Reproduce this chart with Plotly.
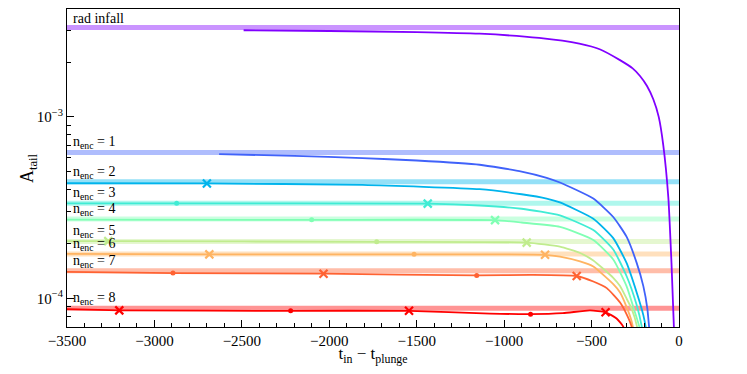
"""Tail amplitude vs time before plunge, one curve per encounter count (log y)."""
import numpy as np
import plotly.graph_objects as go

FONT = "Liberation Serif"

# rainbow colours, rad infall first then n_enc = 1..8
COLORS = ["#8000ff", "#4062fa", "#00b4ec", "#40ecd4", "#80ffb4",
          "#c0ec8e", "#ffb462", "#ff6232", "#ff0000"]
LABELS = ["rad infall"] + [f"n<sub>enc</sub> = {n}" for n in range(1, 9)]

# asymptotic levels (horizontal bands)
band_levels = [3.11e-3, 6.37e-4, 4.39e-4, 3.34e-4, 2.74e-4, 2.06e-4, 1.76e-4, 1.42e-4, 8.83e-5]

t_rad = [-2490, -2000, -1500, -1140, -800, -570, -450, -340, -265, -223, -183, -147, -116, -90, -61, -43, -28]
a_rad = [3.0e-3, 2.97e-3, 2.93e-3, 2.87e-3, 2.72e-3, 2.53e-3, 2.35e-3, 2.06e-3, 1.85e-3, 1.68e-3,
         1.48e-3, 1.25e-3, 1.0e-3, 7.0e-4, 3.6e-4, 1.57e-4, 6.5e-5]

t_n1 = [-2630, -2200, -1810, -1500, -1140, -900, -757, -681, -490, -376, -300, -242, -204, -181, -168, -163]
a_n1 = [6.23e-4, 6.1e-4, 5.93e-4, 5.75e-4, 5.45e-4, 5.0e-4, 4.62e-4, 4.35e-4, 3.55e-4, 2.81e-4,
        2.19e-4, 1.57e-4, 1.17e-4, 8.8e-5, 6.5e-5, 6.0e-5]

t_n2 = [-3500, -2700, -1810, -1140, -900, -757, -681, -490, -376, -300, -242, -204, -189, -183]
a_n2 = [4.31e-4, 4.3e-4, 4.22e-4, 4.0e-4, 3.75e-4, 3.55e-4, 3.38e-4, 2.75e-4, 2.15e-4, 1.57e-4,
        1.08e-4, 8.1e-5, 6.8e-5, 6.0e-5]

t_n3 = [-3500, -2870, -1437, -1140, -900, -681, -490, -376, -300, -242, -213, -203]
a_n3 = [3.34e-4, 3.34e-4, 3.33e-4, 3.25e-4, 3.12e-4, 2.87e-4, 2.38e-4, 1.86e-4, 1.33e-4, 9.2e-5, 7.0e-5, 6.0e-5]

t_n4 = [-3500, -2100, -1052, -900, -681, -490, -376, -300, -252, -227, -217]
a_n4 = [2.72e-4, 2.71e-4, 2.70e-4, 2.62e-4, 2.48e-4, 2.10e-4, 1.64e-4, 1.17e-4, 8.4e-5, 7.0e-5, 6.0e-5]

t_n5 = [-3500, -3264, -1730, -871, -681, -566, -490, -376, -337, -300, -271, -240, -230]
a_n5 = [2.07e-4, 2.07e-4, 2.05e-4, 2.03e-4, 1.93e-4, 1.78e-4, 1.62e-4, 1.3e-4, 1.17e-4, 1.0e-4,
        8.8e-5, 7.0e-5, 6.0e-5]

t_n6 = [-3500, -2686, -1515, -766, -681, -566, -490, -376, -337, -300, -271, -250]
a_n6 = [1.76e-4, 1.75e-4, 1.75e-4, 1.74e-4, 1.70e-4, 1.6e-4, 1.5e-4, 1.2e-4, 1.08e-4, 9.0e-5, 7.5e-5, 6.0e-5]

t_n7 = [-3500, -2894, -2033, -1157, -850, -585, -490, -413, -337, -300, -271, -260]
a_n7 = [1.40e-4, 1.38e-4, 1.37e-4, 1.34e-4, 1.35e-4, 1.33e-4, 1.24e-4, 1.14e-4, 9.5e-5, 8.2e-5, 7.0e-5, 6.0e-5]

t_n8 = [-3500, -3200, -2221, -1544, -1081, -849, -664, -509, -420, -357, -319, -310]
a_n8 = [8.73e-5, 8.6e-5, 8.55e-5, 8.55e-5, 8.26e-5, 8.2e-5, 8.3e-5, 8.6e-5, 8.4e-5, 7.76e-5, 7.0e-5, 6.0e-5]

curves_t = [t_rad, t_n1, t_n2, t_n3, t_n4, t_n5, t_n6, t_n7, t_n8]
curves_a = [a_rad, a_n1, a_n2, a_n3, a_n4, a_n5, a_n6, a_n7, a_n8]

# marker times on each curve (x crosses and dots)
cross_times = [[], [], [-2700], [-1437], [-1052], [-3264, -871], [-2686, -766], [-2033, -585],
               [-3201, -1544, -420]]
dot_times = [[], [], [], [-2873], [-2101], [-1729], [-1515], [-2894, -1157], [-2221, -849]]

T_MIN, T_MAX = -3500, 0


def _hex_to_rgba(hex_color: str, alpha: float) -> str:
    r, g, b = (int(hex_color[i:i + 2], 16) for i in (1, 3, 5))
    return f"rgba({r},{g},{b},{alpha})"


def _on_curve(times, t_arr, a_arr):
    return list(10 ** np.interp(times, t_arr, np.log10(a_arr)))


fig = go.Figure()

for level, color in zip(band_levels, COLORS):
    fig.add_trace(go.Scatter(
        x=[T_MIN, T_MAX], y=[level, level], mode="lines",
        line=dict(color=_hex_to_rgba(color, 0.42), width=5),
        hoverinfo="skip", showlegend=False,
    ))

for idx, color in enumerate(COLORS):
    t_arr, a_arr = curves_t[idx], curves_a[idx]
    fig.add_trace(go.Scatter(
        x=t_arr, y=a_arr, mode="lines",
        line=dict(color=color, width=1.8, shape="spline", smoothing=0.5),
        showlegend=False,
    ))
    if cross_times[idx]:
        fig.add_trace(go.Scatter(
            x=cross_times[idx], y=_on_curve(cross_times[idx], t_arr, a_arr), mode="markers",
            marker=dict(symbol="x-thin", size=8, color=color, line=dict(color=color, width=2.2)),
            showlegend=False,
        ))
    if dot_times[idx]:
        fig.add_trace(go.Scatter(
            x=dot_times[idx], y=_on_curve(dot_times[idx], t_arr, a_arr), mode="markers",
            marker=dict(symbol="circle", size=5, color=color),
            showlegend=False,
        ))

for level, label in zip(band_levels, LABELS):
    fig.add_annotation(
        x=-3470, y=np.log10(level), text=label, showarrow=False,
        xanchor="left", yanchor="bottom", borderpad=0,
        font=dict(family=FONT, size=14, color="black"),
    )

# y-axis title placed by hand so it sits as close to the ticks as in the original
fig.add_annotation(
    xref="paper", yref="paper", x=0, y=0.5, xshift=-39, textangle=-90,
    text="A<sub>tail</sub>", showarrow=False, xanchor="center", yanchor="middle",
    font=dict(family=FONT, size=18, color="black"),
)

minor_vals = [m * 10.0 ** e for e in (-5, -4, -3) for m in range(2, 10)]

# page body has an 8px margin, so the figure is sized to fit inside the window
fig.update_layout(
    width=739, height=358,
    margin=dict(l=59, r=68, t=0, b=34),
    plot_bgcolor="white", paper_bgcolor="white",
    font=dict(family=FONT, color="black"),
)
fig.update_xaxes(
    range=[T_MIN, T_MAX], showgrid=False, zeroline=False,
    showline=True, linecolor="black", linewidth=1, mirror=True,
    ticks="inside", ticklen=7, tickcolor="black", dtick=500,
    minor=dict(ticks="inside", ticklen=4, dtick=100, tickcolor="black"),
    tickfont=dict(family=FONT, size=15),
    title=dict(text="t<sub>in</sub> − t<sub>plunge</sub>", font=dict(family=FONT, size=17), standoff=5),
)
fig.update_yaxes(
    type="log", range=[-4.157, -2.406], showgrid=False, zeroline=False,
    showline=True, linecolor="black", linewidth=1, mirror=True,
    ticks="inside", ticklen=7, tickcolor="black",
    tickvals=[1e-4, 1e-3], ticktext=["10<sup>−4</sup>", "10<sup>−3</sup>"],
    minor=dict(ticks="inside", ticklen=4, tickvals=minor_vals, tickcolor="black"),
    tickfont=dict(family=FONT, size=15),
)

fig.write_html("out.html")
